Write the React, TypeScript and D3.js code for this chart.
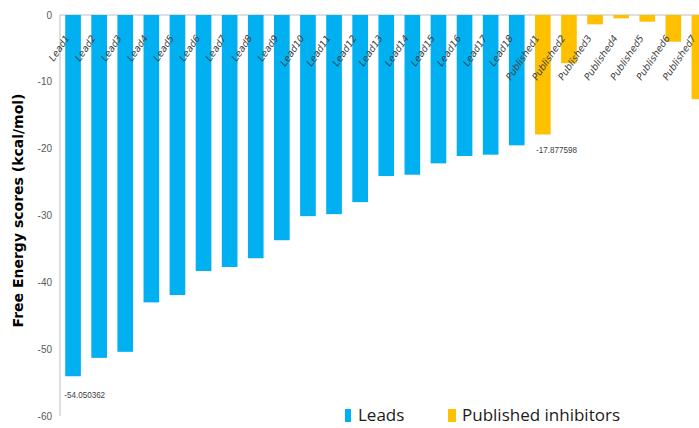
import React from "react";
import * as d3 from "d3";

// docking scores
const leadNames = [
  "Lead1", "Lead2", "Lead3", "Lead4", "Lead5", "Lead6", "Lead7", "Lead8", "Lead9",
  "Lead10", "Lead11", "Lead12", "Lead13", "Lead14", "Lead15", "Lead16", "Lead17", "Lead18",
];
const leadValues = [
  -54.050362, -51.3, -50.4, -43.0, -41.9, -38.3, -37.7, -36.4, -33.7,
  -30.1, -29.8, -28.0, -24.1, -23.9, -22.2, -21.1, -20.9, -19.5,
];
const publishedNames = [
  "Published1", "Published2", "Published3", "Published4", "Published5", "Published6", "Published7",
];
const publishedValues = [-17.877598, -7.2, -1.4, -0.5, -1.0, -4.0, -12.6];
const yTicks = [0, -10, -20, -30, -40, -50, -60];

const colors = { lead: "#00B0F0", published: "#FFC000" };

const width = 699;
const height = 428;
const margin = { top: 15, left: 60 };

const App = () => {
  const rows = [
    ...leadNames.map((name, i) => ({ name, value: leadValues[i], group: "lead" })),
    ...publishedNames.map((name, i) => ({ name, value: publishedValues[i], group: "published" })),
  ];

  const x = d3
    .scaleBand()
    .domain(rows.map((d) => d.name))
    .range([margin.left, margin.left + rows.length * 26.1])
    .paddingInner(0.4)
    .paddingOuter(0.2);

  const y = d3.scaleLinear().domain([0, -60]).range([margin.top, 416]);

  // labelled extremes
  const minLead = rows[0];
  const firstPub = rows[leadNames.length];

  const narrow = "Liberation Sans, sans-serif";

  return (
    <svg
      width={width}
      height={height}
      style={{ position: "absolute", left: 0, top: 0, background: "#fff" }}
    >
      {/* axes lines */}
      <line x1={margin.left} x2={width} y1={y(0)} y2={y(0)} stroke="#bfbfbf" strokeWidth={1} />
      <line x1={margin.left} x2={margin.left} y1={y(0)} y2={y(-60)} stroke="#bfbfbf" strokeWidth={1} />

      {yTicks.map((t) => (
        <text
          key={t}
          x={52}
          y={y(t)}
          dy="0.35em"
          textAnchor="end"
          fontFamily={narrow}
          fontSize={10}
          fill="#595959"
        >
          {t === 0 ? "0" : `-${Math.abs(t)}`}
        </text>
      ))}

      {rows.map((d) => (
        <rect
          key={d.name}
          x={x(d.name)}
          y={y(0)}
          width={x.bandwidth()}
          height={y(d.value) - y(0)}
          fill={d.group === "lead" ? colors.lead : colors.published}
        />
      ))}

      {rows.map((d) => {
        const cx = (x(d.name) ?? 0) + x.bandwidth() / 2 - 3;
        return (
          <text
            key={"l" + d.name}
            transform={`translate(${cx},38) rotate(-56)`}
            textAnchor="end"
            fontFamily="DejaVu Sans, sans-serif"
            fontStyle="italic"
            fontSize={9.5}
            fill="#404040"
          >
            {d.name}
          </text>
        );
      })}

      <text
        x={(x(minLead.name) ?? 0) - 1}
        y={y(minLead.value) + 22}
        fontFamily={narrow}
        fontSize={9}
        fill="#404040"
        transform={`scale(0.9,1)`}
        style={{ transformOrigin: `${(x(minLead.name) ?? 0) - 1}px 0px` }}
      >
        {minLead.value.toString()}
      </text>
      <text
        x={(x(firstPub.name) ?? 0) + 1}
        y={y(firstPub.value) + 19}
        fontFamily={narrow}
        fontSize={9}
        fill="#404040"
        transform={`scale(0.9,1)`}
        style={{ transformOrigin: `${(x(firstPub.name) ?? 0) + 1}px 0px` }}
      >
        {firstPub.value.toString()}
      </text>

      <text
        transform={`translate(23,${(y(0) + y(-60)) / 2 - 5}) rotate(-90)`}
        textAnchor="middle"
        fontFamily="DejaVu Sans, sans-serif"
        fontWeight="bold"
        fontSize={14}
        fill="#000"
      >
        Free Energy scores (kcal/mol)
      </text>

      {/* legend */}
      <rect x={345} y={409} width={6} height={13} fill={colors.lead} />
      <text x={358} y={421} fontFamily="Open Sans, sans-serif" fontSize={17} fill="#1a1a1a">
        Leads
      </text>
      <rect x={448} y={409} width={8} height={13} fill={colors.published} />
      <text x={462} y={421} fontFamily="Open Sans, sans-serif" fontSize={17} fill="#1a1a1a">
        Published inhibitors
      </text>
    </svg>
  );
};

export default App;
